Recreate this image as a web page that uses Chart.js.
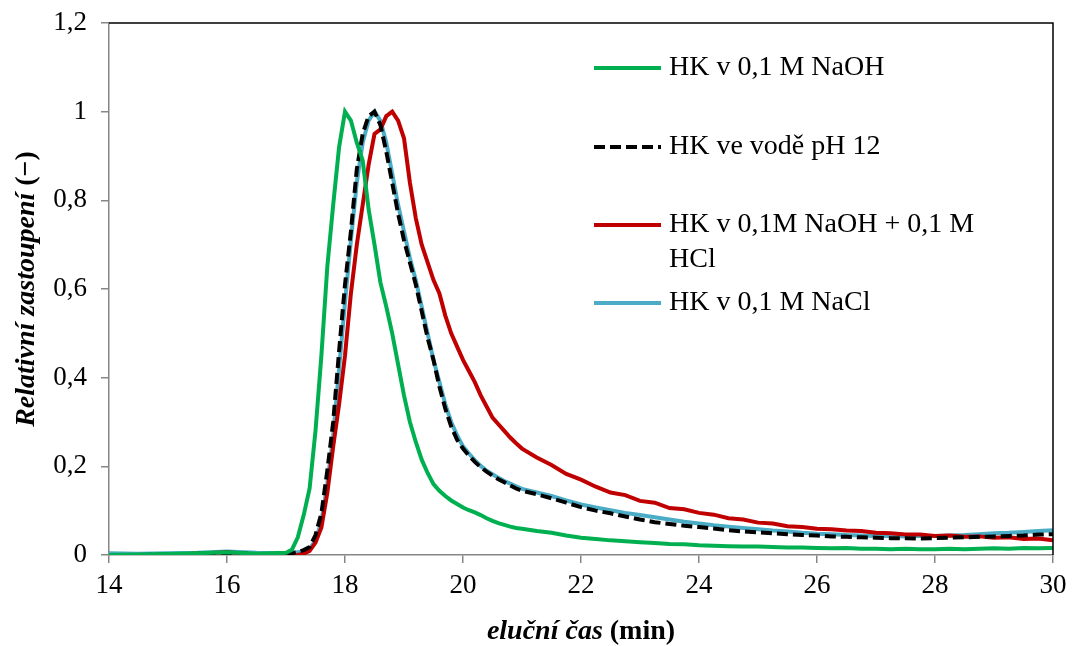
<!DOCTYPE html>
<html>
<head>
<meta charset="utf-8">
<script src="https://cdn.jsdelivr.net/npm/chart.js@4.4.0/dist/chart.umd.min.js"></script>
<style>
  html, body { margin: 0; padding: 0; background: #fff; }
  #wrap { width: 1072px; height: 646px; }
</style>
</head>
<body>
<div id="wrap"><canvas id="elutionChart" width="1072" height="646"></canvas></div>
<script>
// elution time (min), shared by all four curves
var elutionTime = [
  14, 14.5, 15, 15.5, 16, 16.5,
  17.0, 17.1, 17.2, 17.3, 17.4, 17.5, 17.6, 17.7, 17.8, 17.9,
  18.0, 18.1, 18.2, 18.3, 18.4, 18.5, 18.6, 18.7, 18.8, 18.9,
  19.0, 19.1, 19.2, 19.3, 19.4, 19.5, 19.6, 19.7, 19.8, 19.9,
  20.0, 20.1, 20.2, 20.3, 20.4, 20.5, 20.6, 20.7, 20.8, 20.9, 21.0,
  21.25, 21.5, 21.75, 22, 22.25, 22.5, 22.75, 23, 23.25, 23.5, 23.75,
  24, 24.25, 24.5, 24.75, 25, 25.25, 25.5, 25.75, 26, 26.25, 26.5, 26.75,
  27, 27.25, 27.5, 27.75, 28, 28.25, 28.5, 28.75, 29, 29.25, 29.5, 29.75, 30
];

var hkNaOH = [
  0.000, 0.001, 0.002, 0.004, 0.006, 0.003,
  0.005, 0.012, 0.04, 0.09, 0.15, 0.28, 0.45, 0.65, 0.79, 0.92,
  1.0, 0.98, 0.93, 0.89, 0.78, 0.7, 0.615, 0.56, 0.5, 0.43,
  0.36, 0.3, 0.255, 0.215, 0.185, 0.16, 0.145, 0.133, 0.123, 0.115,
  0.107, 0.101, 0.096, 0.09, 0.083, 0.077, 0.072, 0.068, 0.064, 0.061, 0.059,
  0.054, 0.05, 0.044, 0.039, 0.036, 0.033, 0.031, 0.029, 0.027, 0.025, 0.024,
  0.022, 0.021, 0.02, 0.019, 0.019, 0.018, 0.017, 0.017, 0.016, 0.015, 0.016, 0.014,
  0.014, 0.013, 0.014, 0.013, 0.013, 0.014, 0.013, 0.014, 0.015, 0.014, 0.016, 0.015, 0.016
];

var hkWaterPH12 = [
  0.000, 0.000, 0.001, 0.003, 0.005, 0.002,
  0.002, 0.004, 0.007, 0.011, 0.018, 0.045, 0.094, 0.19, 0.3, 0.46,
  0.61, 0.73, 0.87, 0.95, 0.99, 1.0, 0.97, 0.91, 0.84, 0.77,
  0.71, 0.66, 0.61, 0.55, 0.49, 0.44, 0.38, 0.33, 0.29, 0.26,
  0.24, 0.224, 0.21, 0.198, 0.188, 0.179, 0.171, 0.164, 0.157, 0.15, 0.145,
  0.137, 0.128, 0.118, 0.108, 0.1, 0.094, 0.087, 0.08, 0.074, 0.07, 0.066,
  0.063, 0.06, 0.056, 0.053, 0.051, 0.049, 0.047, 0.045, 0.044, 0.042, 0.041, 0.04,
  0.039, 0.038, 0.038, 0.037, 0.038, 0.039, 0.04, 0.041, 0.042, 0.043, 0.044, 0.046, 0.047
];

var hkNaOHHCl = [
  -0.002, -0.001, 0.001, 0.003, 0.006, 0.001,
  -0.003, -0.002, 0.0, 0.003, 0.009, 0.028, 0.062, 0.14, 0.245, 0.34,
  0.45, 0.59, 0.7, 0.79, 0.88, 0.95, 0.96, 0.99, 1.0, 0.98,
  0.94, 0.84, 0.76, 0.7, 0.66, 0.62, 0.59, 0.54, 0.5, 0.47,
  0.44, 0.415, 0.39, 0.36, 0.335, 0.31, 0.295, 0.28, 0.265, 0.252, 0.24,
  0.22, 0.203, 0.183, 0.17, 0.154, 0.141, 0.135, 0.122, 0.118, 0.106, 0.103,
  0.095, 0.091, 0.083, 0.08, 0.073, 0.071, 0.065, 0.063, 0.059, 0.058, 0.055, 0.054,
  0.05, 0.049, 0.046, 0.046, 0.043, 0.044, 0.041, 0.042, 0.039, 0.040, 0.036, 0.037, 0.033
];

var hkNaCl = [
  0.004, 0.003, 0.004, 0.005, 0.008, 0.005,
  0.004, 0.005, 0.006, 0.009, 0.014, 0.033, 0.075, 0.16, 0.27, 0.42,
  0.57, 0.71, 0.84, 0.93, 0.98, 1.0, 0.98, 0.93, 0.86, 0.79,
  0.73, 0.67, 0.62, 0.56, 0.5, 0.44, 0.39, 0.34, 0.3, 0.27,
  0.245, 0.229, 0.214, 0.201, 0.19, 0.182, 0.174, 0.167, 0.161, 0.155, 0.149,
  0.141, 0.133, 0.123, 0.114, 0.107, 0.101, 0.095, 0.09, 0.085, 0.08, 0.075,
  0.071, 0.067, 0.064, 0.061, 0.058, 0.055, 0.053, 0.05, 0.048, 0.047, 0.045, 0.044,
  0.043, 0.043, 0.042, 0.043, 0.043, 0.044, 0.045, 0.047, 0.049, 0.05, 0.052, 0.054, 0.056
];

var seriesLabels = ['HK v 0,1 M NaOH', 'HK ve vodě pH 12', 'HK v 0,1M NaOH + 0,1 M HCl', 'HK v 0,1 M NaCl'];
var xTickLabels = ['14', '16', '18', '20', '22', '24', '26', '28', '30'];
var yTickLabels = ['0', '0,2', '0,4', '0,6', '0,8', '1', '1,2'];

var serif = '"Liberation Serif", "Times New Roman", serif';
var axisGray = '#868686';

function toPoints(ys) {
    var pts = [];
    for (var i = 0; i < ys.length; i++) {
        pts.push({ x: elutionTime[i], y: ys[i] });
    }
    return pts;
}

function lineSet(label, ys, color, dash) {
    return {
        label: label,
        data: toPoints(ys),
        borderColor: color,
        backgroundColor: color,
        borderWidth: 4,
        borderDash: dash || [],
        pointRadius: 0,
        tension: 0,
        fill: false
    };
}

// black frame on top and right of the plot area
var frameLines = {
    id: 'frameLines',
    afterDatasetsDraw: function (chart) {
        var a = chart.chartArea, ctx = chart.ctx;
        ctx.save();
        ctx.strokeStyle = '#000';
        ctx.lineWidth = 1.5;
        ctx.beginPath();
        ctx.moveTo(a.left, a.top);
        ctx.lineTo(a.right, a.top);
        ctx.lineTo(a.right, a.bottom);
        ctx.stroke();
        ctx.restore();
    }
};

// legend drawn inside the plot, Excel style
var insideLegend = {
    id: 'insideLegend',
    afterDraw: function (chart, args, opts) {
        var ctx = chart.ctx;
        ctx.save();
        ctx.font = opts.fontSize + 'px ' + serif;
        ctx.textBaseline = 'middle';
        chart.data.datasets.forEach(function (ds, i) {
            var y = opts.rows[i];
            ctx.strokeStyle = ds.borderColor;
            ctx.lineWidth = 4;
            ctx.setLineDash(ds.borderDash);
            ctx.beginPath();
            ctx.moveTo(opts.lineX0, y);
            ctx.lineTo(opts.lineX1, y);
            ctx.stroke();
            ctx.setLineDash([]);
            ctx.fillStyle = '#000';
            // simple word wrap
            var words = ds.label.split(' '), line = '', lines = [];
            words.forEach(function (w) {
                var test = line ? line + ' ' + w : w;
                if (ctx.measureText(test).width > opts.maxWidth && line) {
                    lines.push(line);
                    line = w;
                } else {
                    line = test;
                }
            });
            lines.push(line);
            lines.forEach(function (t, k) {
                ctx.fillText(t, opts.textX, y + k * opts.lineHeight);
            });
        });
        ctx.restore();
    }
};

function drawMixed(ctx, parts, cx, cy) {
    var total = 0;
    parts.forEach(function (p) { ctx.font = p.font; p.w = ctx.measureText(p.text).width; total += p.w; });
    var x = cx - total / 2;
    parts.forEach(function (p) {
        ctx.font = p.font;
        ctx.fillText(p.text, x, cy);
        x += p.w;
    });
}

// axis titles with italic + upright parts
var axisTitles = {
    id: 'axisTitles',
    afterDraw: function (chart, args, opts) {
        var ctx = chart.ctx, a = chart.chartArea;
        var bi = 'italic bold ' + opts.fontSize + 'px ' + serif;
        var b = 'bold ' + opts.fontSize + 'px ' + serif;
        ctx.save();
        ctx.fillStyle = '#000';
        ctx.textBaseline = 'middle';
        drawMixed(ctx, [{ text: 'eluční čas', font: bi }, { text: ' (min)', font: b }], (a.left + a.right) / 2, opts.xTitleY);
        ctx.translate(opts.yTitleX, (a.top + a.bottom) / 2);
        ctx.rotate(-Math.PI / 2);
        drawMixed(ctx, [{ text: 'Relativní zastoupení', font: bi }, { text: ' (−)', font: b }], 0, 0);
        ctx.restore();
    }
};

var ctx = document.getElementById('elutionChart');
var elutionChart = new Chart(ctx, {
    type: 'line',
    data: {
        datasets: [
            lineSet(seriesLabels[0], hkNaOH, '#00B050'),
            lineSet(seriesLabels[1], hkWaterPH12, '#000000', [11, 5]),
            lineSet(seriesLabels[2], hkNaOHHCl, '#C00000'),
            lineSet(seriesLabels[3], hkNaCl, '#4BACC6')
        ]
    },
    options: {
        responsive: false,
        animation: false,
        devicePixelRatio: 1,
        layout: { padding: { left: 0, top: 23, right: 19, bottom: 0 } },
        scales: {
            x: {
                type: 'linear',
                min: 14,
                max: 30,
                afterFit: function (scale) {
                    scale.height = 91;
                    scale.paddingLeft = 0;
                    scale.paddingRight = 0;
                },
                afterBuildTicks: function (scale) {
                    scale.ticks = xTickLabels.map(function (t) { return { value: parseFloat(t) }; });
                },
                ticks: {
                    color: '#000',
                    font: { family: serif, size: 27 },
                    padding: 7,
                    maxRotation: 0,
                    callback: function (v, i) { return xTickLabels[i]; }
                },
                grid: { display: true, drawOnChartArea: false, drawTicks: true, tickLength: 8, color: axisGray, lineWidth: 1.5 },
                border: { display: true, color: axisGray, width: 1.5 }
            },
            y: {
                type: 'linear',
                min: 0,
                max: 1.2,
                afterFit: function (scale) {
                    scale.width = 109;
                    scale.paddingTop = 0;
                    scale.paddingBottom = 0;
                },
                afterBuildTicks: function (scale) {
                    scale.ticks = yTickLabels.map(function (t) { return { value: parseFloat(t.replace(',', '.')) }; });
                },
                ticks: {
                    color: '#000',
                    font: { family: serif, size: 27 },
                    padding: 14,
                    callback: function (v, i) { return yTickLabels[i]; }
                },
                grid: { display: true, drawOnChartArea: false, drawTicks: true, tickLength: 8, color: axisGray, lineWidth: 1.5 },
                border: { display: true, color: axisGray, width: 1.5 }
            }
        },
        plugins: {
            legend: { display: false },
            tooltip: { enabled: false },
            insideLegend: { lineX0: 594, lineX1: 661, textX: 669, rows: [68, 147, 225, 303], lineHeight: 35, maxWidth: 340, fontSize: 28 },
            axisTitles: { fontSize: 28, xTitleY: 632, yTitleX: 27 }
        }
    },
    plugins: [frameLines, insideLegend, axisTitles]
});
</script>
</body>
</html>
